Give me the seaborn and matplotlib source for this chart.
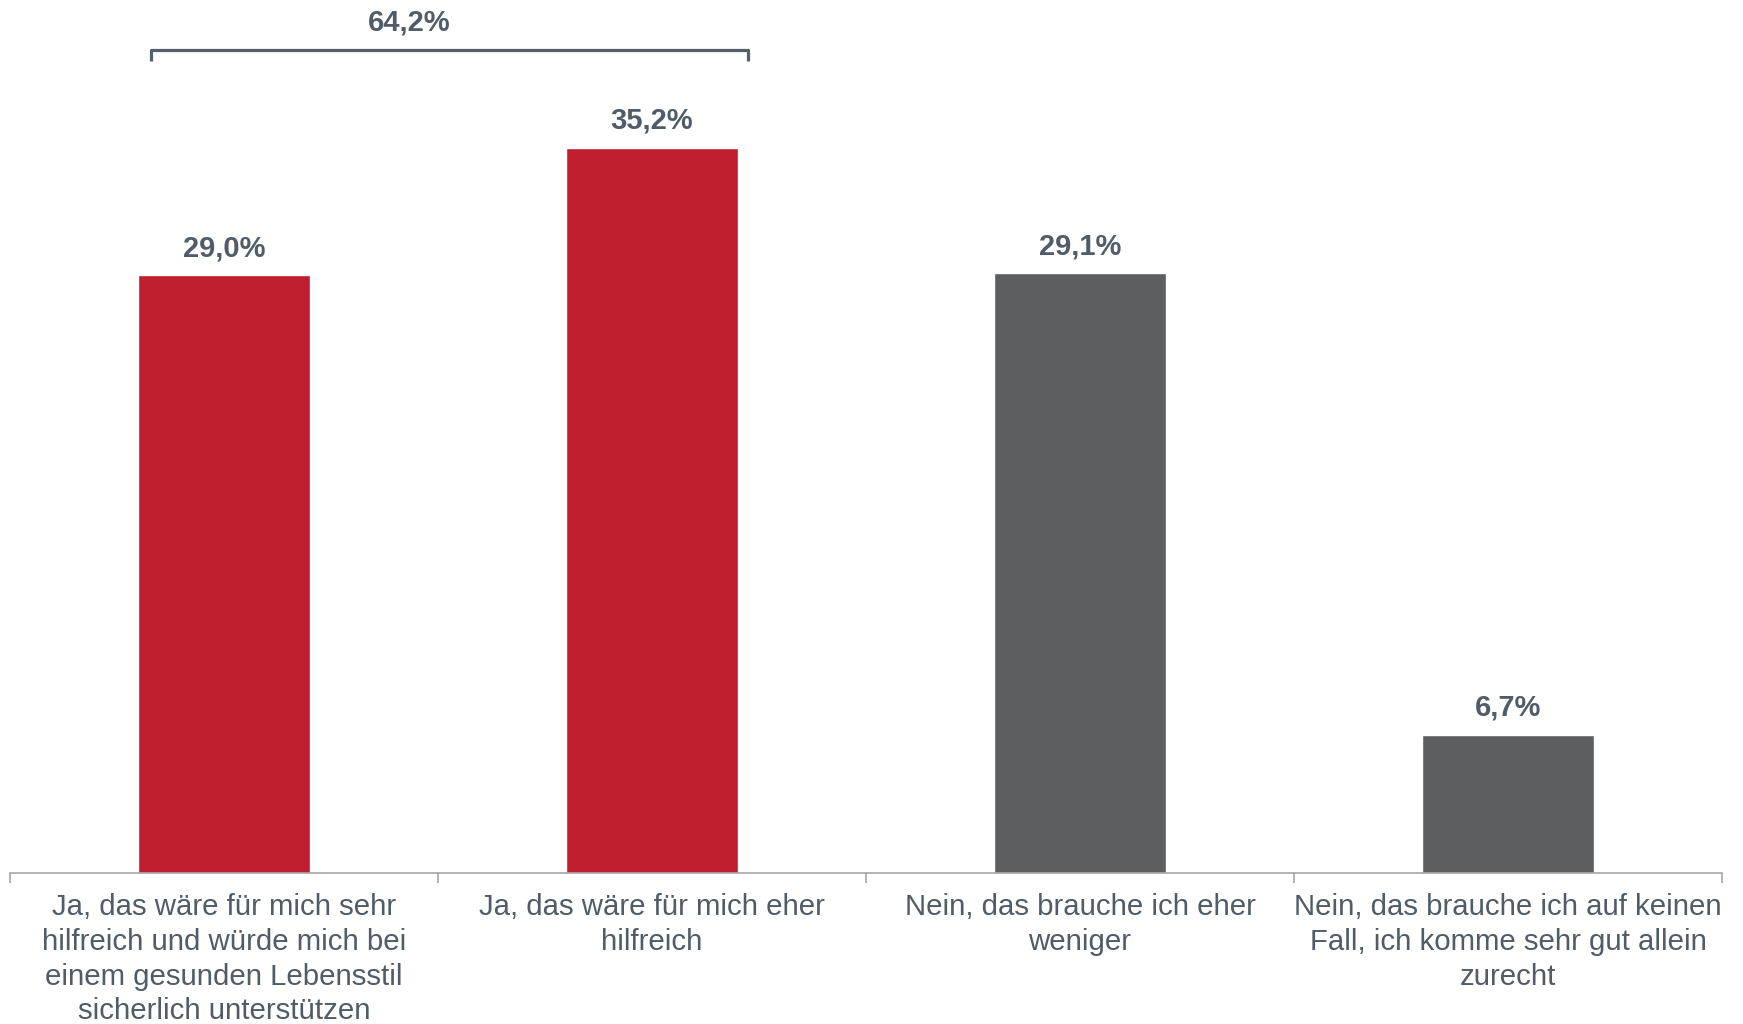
import matplotlib
matplotlib.use("Agg")
import matplotlib.pyplot as plt
import seaborn as sns
import pandas as pd

categories = [
    "Ja, das wäre für mich sehr\nhilfreich und würde mich bei\neinem gesunden Lebensstil\nsicherlich unterstützen",
    "Ja, das wäre für mich eher\nhilfreich",
    "Nein, das brauche ich eher\nweniger",
    "Nein, das brauche ich auf keinen\nFall, ich komme sehr gut allein\nzurecht",
]
values = [29.0, 35.2, 29.1, 6.7]
value_labels = ["29,0%", "35,2%", "29,1%", "6,7%"]
bar_colors = ["#BE1E2D", "#BE1E2D", "#5D5E60", "#5D5E60"]
total_label = "64,2%"

text_color = "#505C68"

sns.set_theme(style="white")
plt.rcParams["font.family"] = ["Liberation Sans", "DejaVu Sans"]

df = pd.DataFrame({"cat": categories, "val": values})

fig = plt.figure(figsize=(17.43, 10.24), dpi=100)
ax = fig.add_axes([10 / 1743, 1 - 872.6 / 1024, 1712 / 1743, 872.6 / 1024])

sns.barplot(data=df, x="cat", y="val", hue="cat", palette=bar_colors,
            legend=False, width=0.4, saturation=1, ax=ax)

ax.set_xlim(-0.5, 3.5)
ax.set_ylim(0, 42.38)

for sp in ["top", "right", "left"]:
    ax.spines[sp].set_visible(False)
ax.spines["bottom"].set_color("#A6A6A6")
ax.spines["bottom"].set_linewidth(1.2)
ax.set_yticks([])
ax.set_xlabel("")
ax.set_ylabel("")

ax.set_xticks(range(len(categories)))
ax.set_xticklabels(categories, linespacing=1.3)
ax.tick_params(axis="x", which="major", bottom=True, length=0, pad=15,
               labelsize=21.2, labelcolor=text_color)
ax.set_xticks([-0.5, 0.5, 1.5, 2.5, 3.5], minor=True)
ax.tick_params(axis="x", which="minor", bottom=True, length=7, width=1.2,
               color="#A6A6A6", direction="out")

for i, (v, lab) in enumerate(zip(values, value_labels)):
    ax.annotate(lab, xy=(i, v), xytext=(0, 19.5), textcoords="offset points",
                ha="center", va="center", fontsize=21, fontweight="bold",
                color=text_color)

# bracket over the two "Ja" answers
bx0, bx1 = -0.17, 1.224
ax.plot([bx0, bx0, bx1, bx1], [39.4, 39.95, 39.95, 39.4],
        color="#535F6A", lw=2.3, solid_joinstyle="round",
        solid_capstyle="butt", clip_on=False)
ax.text(0.432, 41.3, total_label, ha="center", va="center",
        fontsize=21, fontweight="bold", color=text_color)

fig.savefig("out.png", dpi=100)
